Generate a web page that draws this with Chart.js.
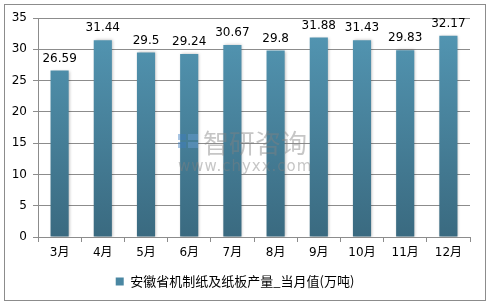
<!DOCTYPE html>
<html><head><meta charset="utf-8">
<script src="https://cdn.jsdelivr.net/npm/chart.js@4/dist/chart.umd.min.js"></script>
<style>
html,body{margin:0;padding:0;background:#fff;}
#wrap{position:relative;width:492px;height:308px;}
#frame{position:absolute;left:4px;top:4px;width:482px;height:297px;border:1px solid #8c8c8c;box-sizing:border-box;pointer-events:none;}
canvas{position:absolute;left:0;top:0;}
</style>
</head><body>
<div id="wrap"><canvas id="c" width="492" height="308"></canvas><div id="frame"></div></div>
<script>
const categories = ['3月','4月','5月','6月','7月','8月','9月','10月','11月','12月'];
const values = [26.59, 31.44, 29.5, 29.24, 30.67, 29.8, 31.88, 31.43, 29.83, 32.17];
const valueLabels = ['26.59','31.44','29.5','29.24','30.67','29.8','31.88','31.43','29.83','32.17'];
const seriesName = '安徽省机制纸及纸板产量_当月值(万吨)';
const yMin = 0, yMax = 35, yStep = 5;

const numFont = "'DejaVu Sans', sans-serif";
const cjkFont = "'DejaVu Sans', 'Noto Sans CJK SC', sans-serif";

function barGradient(ctx) {
  const chart = ctx.chart;
  const a = chart.chartArea;
  if (!a) return '#4a86a0';
  const g = chart.ctx.createLinearGradient(0, a.top, 0, a.bottom);
  g.addColorStop(0, '#5498b5');
  g.addColorStop(1, '#3a6a80');
  return g;
}

const shadowPlugin = {
  id: 'shadow',
  beforeDatasetsDraw(chart) {
    const c = chart.ctx; c.save();
    c.shadowColor = 'rgba(0,0,0,0.28)'; c.shadowBlur = 3; c.shadowOffsetX = 1; c.shadowOffsetY = 0;
  },
  afterDatasetsDraw(chart) {
    chart.ctx.restore();
    const c = chart.ctx;
    const meta = chart.getDatasetMeta(0);
    c.save();
    c.fillStyle = '#000';
    c.font = "12px " + numFont;
    c.textAlign = 'center';
    c.textBaseline = 'bottom';
    meta.data.forEach((el, i) => {
      c.fillText(valueLabels[i], el.x, el.y - 6);
    });
    c.restore();
  }
};

const watermarkPlugin = {
  id: 'watermark',
  afterDraw(chart) {
    const c = chart.ctx;
    c.save();
    c.globalAlpha = 0.45;
    c.fillStyle = '#3f7fc0';
    c.fillRect(178, 134, 8, 6);
    c.fillRect(178, 142, 8, 6);
    c.fillStyle = '#6aa0d6';
    c.fillRect(188, 134, 10, 6);
    c.fillRect(188, 142, 10, 6);
    c.fillStyle = '#808080';
    c.font = "26px 'Noto Sans CJK SC', sans-serif";
    c.textBaseline = 'middle';
    c.textAlign = 'left';
    c.fillText('智研咨询', 203, 143);
    c.font = "15px 'DejaVu Sans', sans-serif";
    if ('letterSpacing' in c) c.letterSpacing = '1px';
    c.fillText('www.chyxx.com', 178, 167);
    c.restore();
  }
};

new Chart(document.getElementById('c'), {
  type: 'bar',
  data: {
    labels: categories,
    datasets: [{
      label: seriesName,
      data: values,
      backgroundColor: barGradient,
      borderWidth: 0,
      barPercentage: 0.42,
      categoryPercentage: 1.0
    }]
  },
  options: {
    responsive: false,
    animation: false,
    devicePixelRatio: 1,
    layout: { padding: { top: 18, right: 22, left: 0, bottom: 10 } },
    plugins: {
      legend: {
        position: 'bottom',
        labels: {
          boxWidth: 8, boxHeight: 8,
          color: '#000',
          font: { size: 13, family: "'Noto Sans CJK SC', sans-serif" },
          padding: 10,
          generateLabels(chart) {
            return [{ text: seriesName, fillStyle: '#4a87a2', strokeStyle: '#4a87a2', lineWidth: 0, datasetIndex: 0 }];
          }
        }
      },
      tooltip: { enabled: false }
    },
    scales: {
      x: {
        grid: { display: true, drawOnChartArea: false, drawTicks: true, tickLength: 5, color: '#8c8c8c', offset: true },
        border: { color: '#8c8c8c', width: 1 },
        ticks: { color: '#000', font: { size: 12, family: cjkFont }, padding: 4, maxRotation: 0 },
        afterFit(s) { s.height = 28; }
      },
      y: {
        min: yMin, max: yMax,
        grid: { color: '#8c8c8c', tickLength: 5, drawTicks: true },
        border: { color: '#8c8c8c', width: 1 },
        ticks: { stepSize: yStep, color: '#000', font: { size: 12, family: numFont }, padding: 6 },
        afterFit(s) { s.width = 38; }
      }
    }
  },
  plugins: [shadowPlugin, watermarkPlugin]
});
</script>
</body></html>
